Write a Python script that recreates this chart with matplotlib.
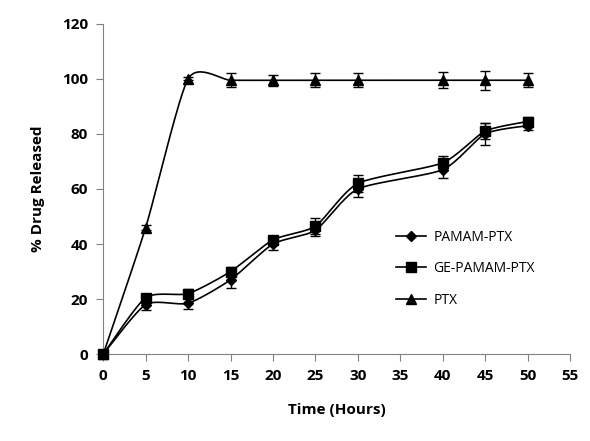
import numpy as np
import matplotlib.pyplot as plt

# release data
time = [0, 5, 10, 15, 20, 25, 30, 40, 45, 50]
pamam_ptx = [0, 18, 18.5, 27, 40, 45, 60, 67, 80, 83]
pamam_err = [0, 2, 2, 3, 2, 2, 3, 3, 4, 1.5]
ge_pamam_ptx = [0, 20.5, 22, 30, 41.5, 46.5, 62, 69.5, 81, 84.5]
ge_err = [0, 1.5, 1.5, 1.5, 1.5, 3, 3, 2.5, 3, 1.5]
ptx = [0, 46, 100, 99.5, 99.5, 99.5, 99.5, 99.5, 99.5, 99.5]
ptx_err = [0, 1, 0.5, 2.5, 2, 2.5, 2.5, 3, 3.5, 2.5]


def smooth(x, y, k=9.0, n=30):
    # Excel-like smoothed line (cardinal bezier through points)
    x = np.asarray(x, float)
    y = np.asarray(y, float)
    xs, ys = [], []
    for i in range(len(x) - 1):
        p0 = np.array([x[max(i - 1, 0)], y[max(i - 1, 0)]])
        p1 = np.array([x[i], y[i]])
        p2 = np.array([x[i + 1], y[i + 1]])
        p3 = np.array([x[min(i + 2, len(x) - 1)], y[min(i + 2, len(x) - 1)]])
        c1 = p1 + (p2 - p0) / k
        c2 = p2 - (p3 - p1) / k
        t = np.linspace(0, 1, n)[:, None]
        pts = ((1 - t) ** 3) * p1 + 3 * ((1 - t) ** 2) * t * c1 + 3 * (1 - t) * t ** 2 * c2 + t ** 3 * p2
        xs.extend(pts[:, 0])
        ys.extend(pts[:, 1])
    return xs, ys


plt.rcParams['font.family'] = ['Open Sans', 'DejaVu Sans']

fig = plt.figure(figsize=(5.9, 4.41), dpi=100)
ax = fig.add_axes([0.175, 0.197, 0.791, 0.749])

series = [
    (pamam_ptx, pamam_err, 'D', 5, 'PAMAM-PTX'),
    (ge_pamam_ptx, ge_err, 's', 7, 'GE-PAMAM-PTX'),
    (ptx, ptx_err, '^', 6.5, 'PTX'),
]
for vals, err, mk, ms, lab in series:
    sx, sy = smooth(time, vals)
    ax.plot(sx, sy, color='black', lw=1.2, clip_on=False)
    ax.errorbar(time, vals, yerr=err, fmt='none', ecolor='black', elinewidth=1, capsize=3.5)
    ax.plot(time, vals, linestyle='none', marker=mk, ms=ms, color='black', clip_on=False, zorder=4)
    ax.plot([], [], color='black', lw=1.2, marker=mk, ms=ms, label=lab)

ax.set_xlim(0, 55)
ax.set_ylim(0, 120)
ax.set_xticks(range(0, 56, 5))
ax.set_yticks(range(0, 121, 20))
ax.spines['top'].set_visible(False)
ax.spines['right'].set_visible(False)
ax.spines['left'].set_color('#808080')
ax.spines['bottom'].set_color('#808080')
ax.tick_params(direction='out', length=5, color='#808080', labelsize=11, pad=6)
for lbl in ax.get_xticklabels() + ax.get_yticklabels():
    lbl.set_fontweight('bold')

ax.set_xlabel('Time (Hours)', fontsize=11, fontweight='bold', labelpad=14)
ax.set_ylabel('% Drug Released', fontsize=11, fontweight='bold', labelpad=12)

ax.legend(loc='upper left', bbox_to_anchor=(0.6, 0.415), frameon=False, fontsize=10,
          handlelength=2.2, labelspacing=1.2, handletextpad=0.5)

fig.savefig('out.png', dpi=100)
